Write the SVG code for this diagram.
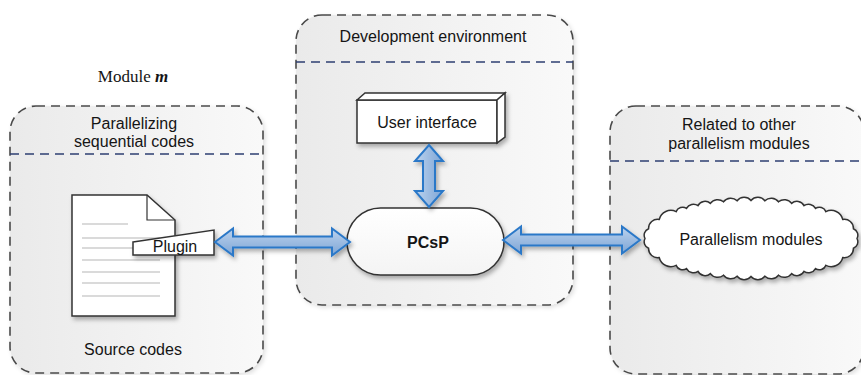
<svg xmlns="http://www.w3.org/2000/svg" width="861" height="375" viewBox="0 0 861 375">
<style>
.t{font-family:"Liberation Sans",Arial,sans-serif;font-size:16px;fill:#151515;text-anchor:middle}
.b{font-weight:bold}
.serif{font-family:"Liberation Serif","Times New Roman",serif;font-size:17px;fill:#151515;text-anchor:middle}
.box{fill:url(#boxg);stroke:#4a4a4a;stroke-width:1.6;stroke-dasharray:9 6}
.div{stroke:#2e3f72;stroke-width:1.5;stroke-dasharray:9 6;fill:none}
.node{fill:#fff;stroke:#333;stroke-width:1.5}
.arrow{fill:url(#arrg);stroke:#2a78c8;stroke-width:2;stroke-linejoin:miter}
.arrowv{fill:url(#arrgv);stroke:#2a78c8;stroke-width:2}
.line{stroke:#b5b5b5;stroke-width:1}
</style>
<defs>
<linearGradient id="boxg" x1="0" y1="0" x2="1" y2="0">
<stop offset="0" stop-color="#eaeaea"/>
<stop offset="1" stop-color="#f9f9f9"/>
</linearGradient>
<linearGradient id="arrg" x1="0" y1="0" x2="0" y2="1">
<stop offset="0" stop-color="#bcd3ee"/>
<stop offset="1" stop-color="#7ea5d5"/>
</linearGradient>
<linearGradient id="arrgv" x1="0" y1="0" x2="1" y2="0">
<stop offset="0" stop-color="#bcd3ee"/>
<stop offset="1" stop-color="#7ea5d5"/>
</linearGradient>
<linearGradient id="nodeg" x1="0" y1="0" x2="0" y2="1">
<stop offset="0" stop-color="#ffffff"/>
<stop offset="1" stop-color="#f4f4f4"/>
</linearGradient>
<filter id="sh" x="-10%" y="-10%" width="130%" height="140%">
<feDropShadow dx="2" dy="3" stdDeviation="2" flood-color="#000" flood-opacity="0.3"/>
</filter>
<filter id="shb" x="-5%" y="-5%" width="115%" height="115%">
<feDropShadow dx="2" dy="2" stdDeviation="2" flood-color="#000" flood-opacity="0.12"/>
</filter>
</defs>
<rect width="861" height="375" fill="#fff"/>

<g id="module-m">
<text class="serif" x="133" y="82">Module <tspan font-style="italic" font-weight="bold">m</tspan></text>
</g>

<g id="left-box">
<rect class="box" x="10" y="106" width="253" height="267" rx="26" filter="url(#shb)"/>
<line class="div" x1="10" y1="154" x2="263" y2="154"/>
<text class="t" x="134" y="129">Parallelizing</text>
<text class="t" x="134" y="147">sequential codes</text>
<text class="t" x="133" y="355">Source codes</text>
</g>

<g id="middle-box">
<rect class="box" x="296" y="15" width="277" height="290" rx="26" filter="url(#shb)"/>
<line class="div" x1="296" y1="62" x2="573" y2="62"/>
<text class="t" x="433" y="42">Development environment</text>
</g>

<g id="right-box">
<rect class="box" x="610" y="106" width="254" height="268" rx="26" filter="url(#shb)"/>
<line class="div" x1="610" y1="161" x2="864" y2="161"/>
<text class="t" x="739" y="130">Related to other</text>
<text class="t" x="739" y="149">parallelism modules</text>
</g>

<g id="source-document">
<path class="node" d="M72,195 H147 L175,220 V316 H72 Z" filter="url(#sh)"/>
<path d="M147,195 V220 H175" fill="none" stroke="#333" stroke-width="1.2"/>
<line class="line" x1="82" y1="224" x2="128" y2="224"/>
<line class="line" x1="82" y1="238" x2="160" y2="238"/>
<line class="line" x1="82" y1="248" x2="160" y2="248"/>
<line class="line" x1="82" y1="260" x2="160" y2="260"/>
<line class="line" x1="82" y1="272" x2="160" y2="272"/>
<line class="line" x1="82" y1="283" x2="160" y2="283"/>
<line class="line" x1="82" y1="296" x2="160" y2="296"/>
</g>

<g id="plugin">
<polygon class="node" points="133,242 214,230 214,255 133,255" filter="url(#sh)"/>
<text class="t" x="175" y="252">Plugin</text>
</g>

<g id="user-interface">
<g filter="url(#sh)">
<rect class="node" x="357" y="100" width="140" height="43"/>
<polygon class="node" points="357,100 365,93 505,93 497,100"/>
<polygon class="node" points="497,100 505,93 505,137 497,143"/>
</g>
<text class="t" x="427" y="128">User interface</text>
</g>

<g id="pcsp">
<rect x="347" y="208" width="157" height="67" rx="33.5" fill="url(#nodeg)" stroke="#333" stroke-width="1.5" filter="url(#sh)"/>
<text class="t b" x="428" y="248">PCsP</text>
</g>

<g id="parallelism-modules">
<path class="node" filter="url(#sh)" d="M857,238.5 A7,7 0 0 1 853.4,248.3 A9,9 0 0 1 842.8,257.5 A12,12 0 0 1 825.9,265.4 A7,7 0 0 1 815.5,268.6 A8,8 0 0 1 804,271.4 A8,8 0 0 1 791.6,273.6 A9,9 0 0 1 778.5,275.2 A9,9 0 0 1 764.9,276.2 A9,9 0 0 1 751,276.5 A9,9 0 0 1 737.1,276.2 A9,9 0 0 1 723.5,275.2 A9,9 0 0 1 710.4,273.6 A8,8 0 0 1 698,271.4 A8,8 0 0 1 686.5,268.6 A7,7 0 0 1 676.1,265.4 A12,12 0 0 1 659.2,257.5 A9,9 0 0 1 648.6,248.3 A7,7 0 0 1 645,238.5 A7,7 0 0 1 648.6,228.7 A9,9 0 0 1 659.2,219.5 A12,12 0 0 1 676.1,211.6 A7,7 0 0 1 686.5,208.4 A8,8 0 0 1 698,205.6 A8,8 0 0 1 710.4,203.4 A9,9 0 0 1 723.5,201.8 A9,9 0 0 1 737.1,200.8 A9,9 0 0 1 751,200.5 A9,9 0 0 1 764.9,200.8 A9,9 0 0 1 778.5,201.8 A9,9 0 0 1 791.6,203.4 A8,8 0 0 1 804,205.6 A8,8 0 0 1 815.5,208.4 A7,7 0 0 1 825.9,211.6 A12,12 0 0 1 842.8,219.5 A9,9 0 0 1 853.4,228.7 A7,7 0 0 1 857,238.5 Z"/>
<text class="t" x="751" y="245">Parallelism modules</text>
</g>

<g id="connectors" filter="url(#sh)">
<polygon class="arrow" points="215,242 233,228.5 233,236.5 332,236.5 332,228.5 350,242 332,255.5 332,247.5 233,247.5 233,255.5"/>
<polygon class="arrow" points="503,240 521,226.5 521,234.5 622,234.5 622,226.5 640,240 622,253.5 622,245.5 521,245.5 521,253.5"/>
<polygon class="arrowv" points="429,145 443,161 435,161 435,191 443,191 429,207 415,191 423,191 423,161 415,161"/>
</g>
</svg>
